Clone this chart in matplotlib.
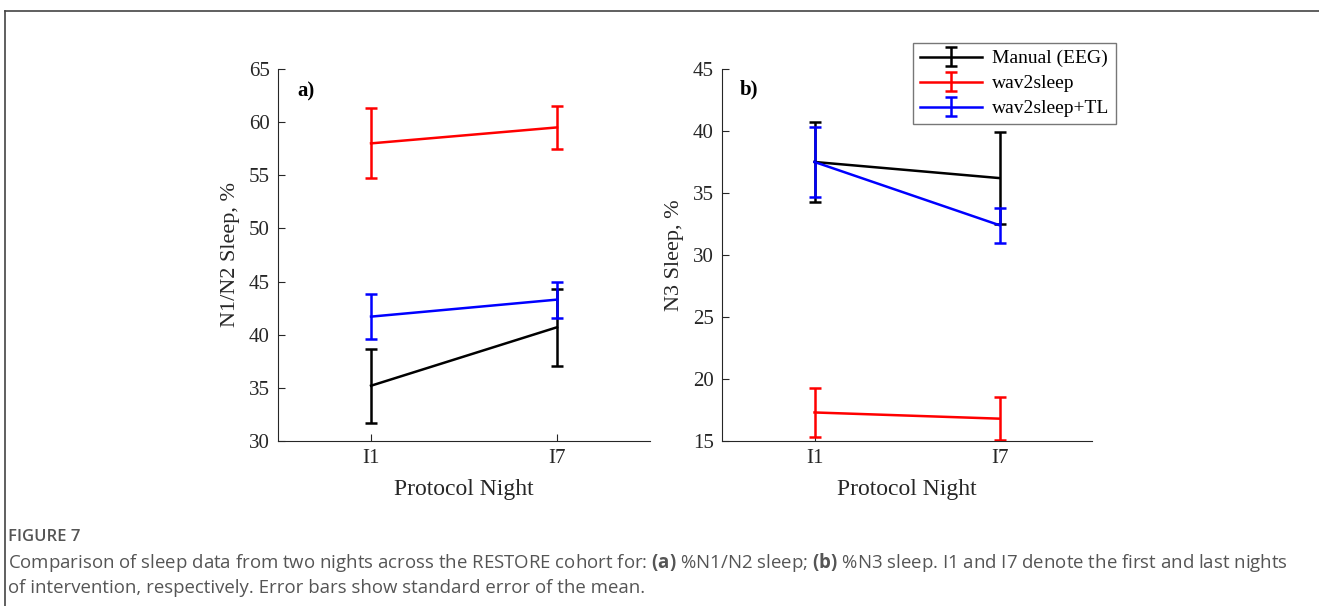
import matplotlib.pyplot as plt
from matplotlib.lines import Line2D

# data (mean and standard error)
nights = ["I1", "I7"]
series = ["Manual (EEG)", "wav2sleep", "wav2sleep+TL"]
colors = ["black", "red", "blue"]

n12_mean = {"Manual (EEG)": [35.2, 40.7], "wav2sleep": [58.0, 59.5], "wav2sleep+TL": [41.7, 43.3]}
n12_sem = {"Manual (EEG)": [3.5, 3.6], "wav2sleep": [3.3, 2.0], "wav2sleep+TL": [2.1, 1.7]}

n3_mean = {"Manual (EEG)": [37.5, 36.2], "wav2sleep": [17.3, 16.8], "wav2sleep+TL": [37.5, 32.4]}
n3_sem = {"Manual (EEG)": [3.2, 3.7], "wav2sleep": [2.0, 1.75], "wav2sleep+TL": [2.8, 1.4]}

serif = ["Liberation Serif", "DejaVu Serif"]
axcol = "#262626"

plt.rcParams["mathtext.fontset"] = "custom"
plt.rcParams["mathtext.rm"] = "Open Sans"
plt.rcParams["mathtext.bf"] = "Open Sans:bold"


def draw_panel(ax, means, sems, ylim, yticks, ylabel, tag, tagpos):
    x = [1, 2]
    for name, col in zip(series, colors):
        ax.errorbar(x, means[name], yerr=sems[name], color=col, lw=1.8,
                    elinewidth=1.8, capsize=4.5, capthick=1.8, label=name)
    ax.set_xlim(0.5, 2.5)
    ax.set_ylim(*ylim)
    ax.set_xticks(x)
    ax.set_xticklabels(nights)
    ax.set_yticks(yticks)
    for s in ["top", "right"]:
        ax.spines[s].set_visible(False)
    for s in ["left", "bottom"]:
        ax.spines[s].set_color(axcol)
        ax.spines[s].set_linewidth(0.8)
    ax.tick_params(direction="in", length=5, width=0.8, colors=axcol,
                   labelsize=15, pad=6)
    for lab in ax.get_xticklabels() + ax.get_yticklabels():
        lab.set_family(serif)
        lab.set_color(axcol)
    ax.set_ylabel(ylabel, fontsize=16, family=serif, color=axcol, labelpad=6)
    ax.set_xlabel("Protocol Night", fontsize=17, family=serif, color=axcol, labelpad=8)
    ax.text(tagpos[0], tagpos[1], tag, transform=ax.transAxes, fontsize=15,
            family=serif, fontweight="bold", ha="left", va="center")


fig = plt.figure(figsize=(13.19, 6.06), dpi=100)

ax1 = fig.add_axes([0.2108, 0.2723, 0.282, 0.6139])
ax2 = fig.add_axes([0.5474, 0.2723, 0.2805, 0.6139])

draw_panel(ax1, n12_mean, n12_sem, (30, 65), range(30, 66, 5), "N1/N2 Sleep, %", "a)", (0.051, 0.94))
draw_panel(ax2, n3_mean, n3_sem, (15, 45), range(15, 46, 5), "N3 Sleep, %", "b)", (0.049, 0.946))

leg = ax2.legend(loc="upper right", bbox_to_anchor=(1116 / 1319, 1 - 43 / 606),
                 bbox_transform=fig.transFigure, borderaxespad=0, frameon=True,
                 fancybox=False, prop={"family": serif, "size": 14},
                 handlelength=3.2, borderpad=0.35, labelspacing=0.38, handletextpad=0.5)
leg.get_frame().set_edgecolor("#555555")
leg.get_frame().set_linewidth(1.0)

# outer frame (top and left edges visible)
fig.add_artist(Line2D([5 / 1319, 1.0], [1 - 11 / 606, 1 - 11 / 606],
                      transform=fig.transFigure, color="#444444", lw=1.2))
fig.add_artist(Line2D([5 / 1319, 5 / 1319], [0.0, 1 - 11 / 606],
                      transform=fig.transFigure, color="#444444", lw=1.2))

# caption
fig.text(8 / 1319, 1 - 537 / 606, "FIGURE 7", fontsize=12, family="Open Sans",
         fontweight="semibold", color="#555555", va="center")
cap1 = ("Comparison of sleep data from two nights across the RESTORE cohort for: "
        "$\\bf{(a)}$ %N1/N2 sleep; $\\bf{(b)}$ %N3 sleep. I1 and I7 denote the first and last nights")
fig.text(8 / 1319, 1 - 563 / 606, cap1, fontsize=13.4, family="Open Sans",
         color="#555555", va="center")
fig.text(8 / 1319, 1 - 588 / 606,
         "of intervention, respectively. Error bars show standard error of the mean.",
         fontsize=13.4, family="Open Sans", color="#555555", va="center")

fig.savefig("out.png", dpi=100)
